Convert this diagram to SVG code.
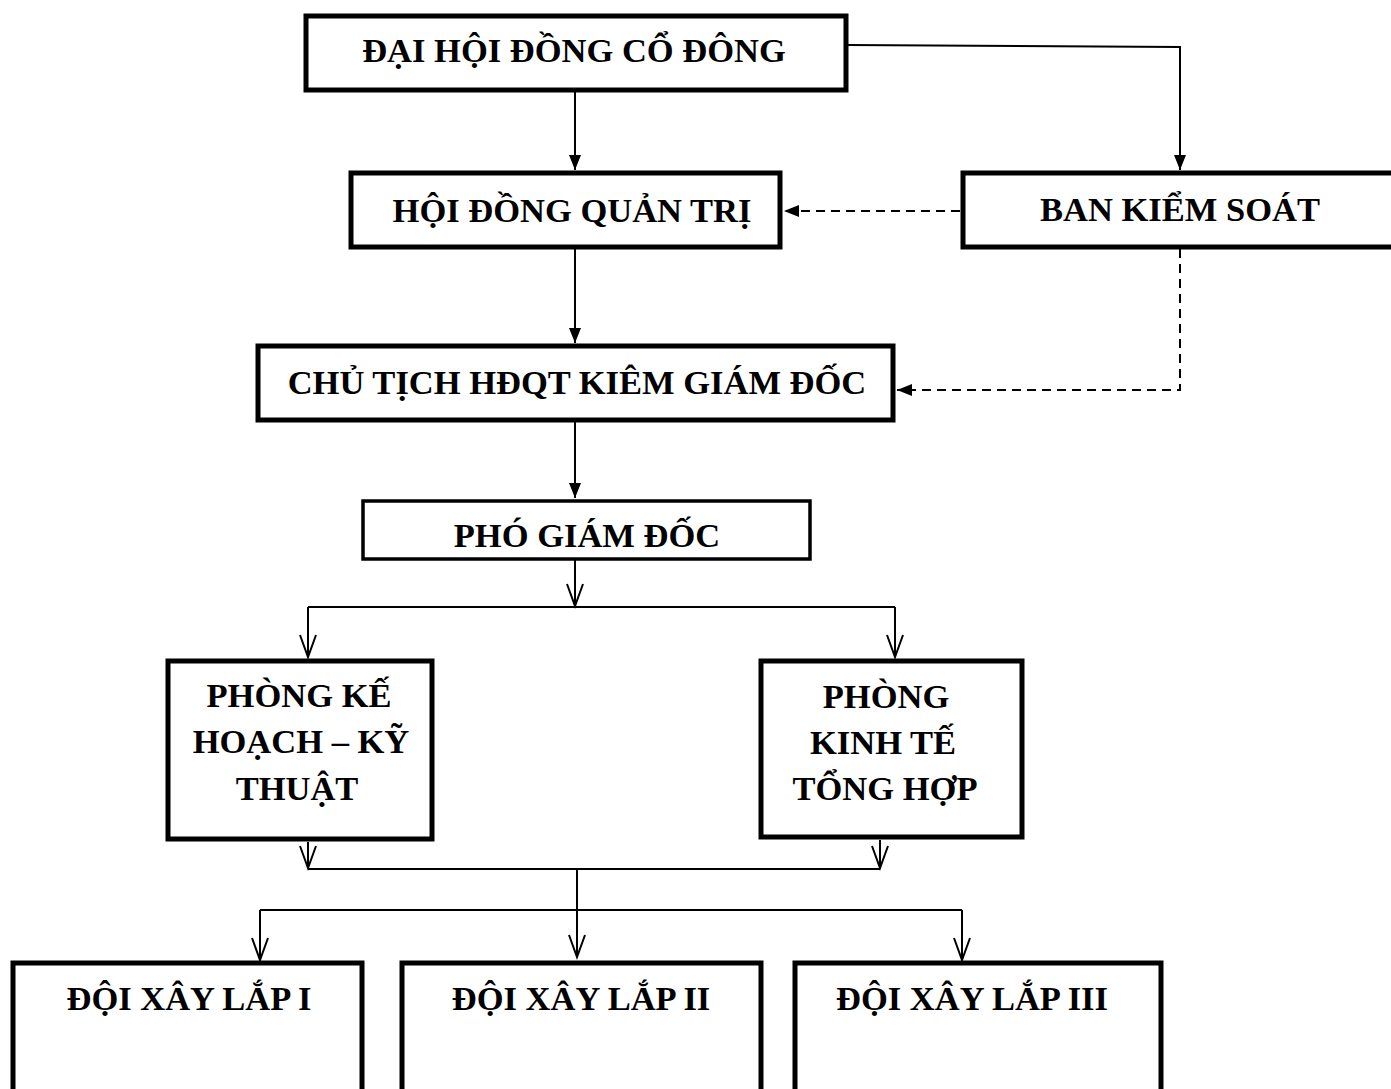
<svg xmlns="http://www.w3.org/2000/svg" width="1391" height="1089" viewBox="0 0 1391 1089">
<style>
.box{fill:#fff;stroke:#000;stroke-width:5}
.thin{stroke-width:3.5}
.t{font-family:"Liberation Serif","Times New Roman",serif;font-weight:bold;font-size:34.5px;fill:#000;text-anchor:middle}
.c{fill:none;stroke:#000;stroke-width:2}
.d{stroke-dasharray:9,6}
</style>
<defs>
<marker id="fa" markerUnits="userSpaceOnUse" markerWidth="16" markerHeight="12" refX="15" refY="6" orient="auto" overflow="visible">
<path d="M0,0 L15,6 L0,12 z" fill="#000"/>
</marker>
<marker id="oa" markerUnits="userSpaceOnUse" markerWidth="24" markerHeight="18" refX="22" refY="8" orient="auto" overflow="visible">
<path d="M0,0 L22,8 L0,16" fill="none" stroke="#000" stroke-width="2"/>
</marker>
</defs>
<g id="connectors">
<path class="c" d="M575,90 L575,170" marker-end="url(#fa)"/>
<path class="c" d="M847,45 L1180,47 L1180,170" marker-end="url(#fa)"/>
<path class="c d" d="M960,211 L784,211" marker-end="url(#fa)"/>
<path class="c d" d="M1180,249 L1180,390 L897,390" marker-end="url(#fa)"/>
<path class="c" d="M575,249 L575,343" marker-end="url(#fa)"/>
<path class="c" d="M575,422 L575,498" marker-end="url(#fa)"/>
<path class="c" d="M575,560 L575,606" marker-end="url(#oa)"/>
<path class="c" d="M308,607 L895,607"/>
<path class="c" d="M308,607 L308,657" marker-end="url(#oa)"/>
<path class="c" d="M895,607 L895,657" marker-end="url(#oa)"/>
<path class="c" d="M308,842 L308,868" marker-end="url(#oa)"/>
<path class="c" d="M880,840 L880,868" marker-end="url(#oa)"/>
<path class="c" d="M308,869 L880,869"/>
<path class="c" d="M577,869 L577,957" marker-end="url(#oa)"/>
<path class="c" d="M260,910 L962,910"/>
<path class="c" d="M260,910 L260,960" marker-end="url(#oa)"/>
<path class="c" d="M962,910 L962,960" marker-end="url(#oa)"/>
</g>
<g id="dhdcd">
<rect class="box" x="306" y="16" width="540" height="74"/>
<text class="t" x="574" y="62">ĐẠI HỘI ĐỒNG CỔ ĐÔNG</text>
</g>
<g id="hdqt">
<rect class="box" x="351" y="173" width="429" height="74"/>
<text class="t" x="572" y="222">HỘI ĐỒNG QUẢN TRỊ</text>
</g>
<g id="bks">
<rect class="box" x="963" y="173" width="440" height="74"/>
<text class="t" x="1180" y="221">BAN KIỂM SOÁT</text>
</g>
<g id="ctgd">
<rect class="box" x="258" y="346" width="635" height="74"/>
<text class="t" x="577" y="394">CHỦ TỊCH HĐQT KIÊM GIÁM ĐỐC</text>
</g>
<g id="pgd">
<rect class="box thin" x="363" y="501" width="447" height="58"/>
<text class="t" x="587" y="547">PHÓ GIÁM ĐỐC</text>
</g>
<g id="pkhkt">
<rect class="box" x="168" y="661" width="264" height="178"/>
<text class="t" x="299" y="707">PHÒNG KẾ</text>
<text class="t" x="301" y="753">HOẠCH – KỸ</text>
<text class="t" x="297" y="800">THUẬT</text>
</g>
<g id="pktth">
<rect class="box" x="761" y="661" width="261" height="176"/>
<text class="t" x="886" y="708">PHÒNG</text>
<text class="t" x="883" y="754">KINH TẾ</text>
<text class="t" x="885" y="800">TỔNG HỢP</text>
</g>
<g id="dxl1">
<rect class="box" x="13" y="963" width="349" height="140"/>
<text class="t" x="189" y="1010">ĐỘI XÂY LẮP I</text>
</g>
<g id="dxl2">
<rect class="box" x="402" y="963" width="359" height="140"/>
<text class="t" x="581" y="1010">ĐỘI XÂY LẮP II</text>
</g>
<g id="dxl3">
<rect class="box" x="795" y="963" width="366" height="140"/>
<text class="t" x="972" y="1010">ĐỘI XÂY LẮP III</text>
</g>
</svg>
